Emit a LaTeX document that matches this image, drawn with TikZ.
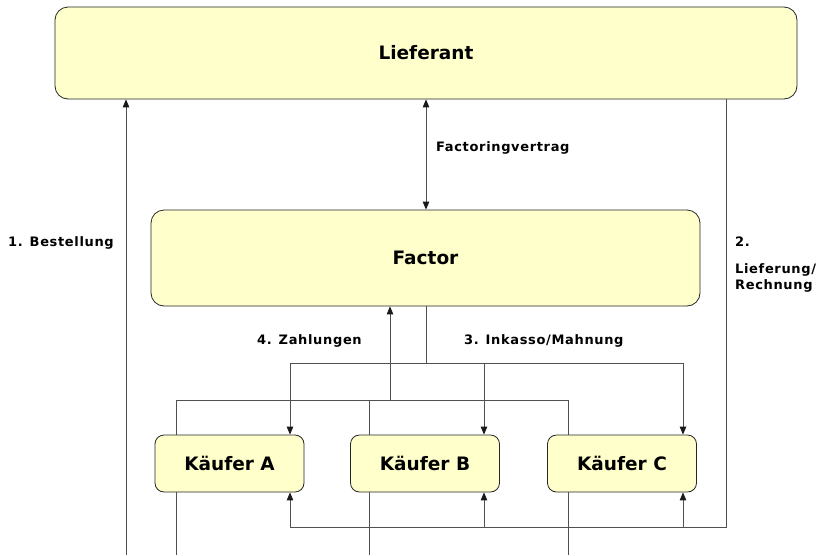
\documentclass[tikz,border=0pt]{standalone}
\usepackage{fontspec}
\setmainfont{DejaVu Sans}
\usetikzlibrary{arrows.meta}
\definecolor{boxfill}{HTML}{FFFFCC}
\definecolor{linegray}{HTML}{505050}
\begin{document}
\begin{tikzpicture}[x=1pt,y=-1pt,
  box/.style={draw=black!85, fill=boxfill, line width=0.8pt, inner sep=0pt},
  bigbox/.style={box, rounded corners=13pt},
  smallbox/.style={box, rounded corners=9pt, minimum width=149pt, minimum height=57pt},
  conn/.style={draw=linegray, line width=0.9pt},
  tip/.style={-{Triangle[length=8pt,width=6.5pt,color=black!90]}},
  bothtip/.style={{Triangle[length=8pt,width=6.5pt,color=black!90]}-{Triangle[length=8pt,width=6.5pt,color=black!90]}},
  bigtext/.style={font=\fontsize{18.5}{20}\selectfont\bfseries},
  lbl/.style={font=\fontsize{13}{15}\selectfont\bfseries\addfontfeature{LetterSpace=5}, inner sep=0pt, anchor=west}]
\useasboundingbox (0,0) rectangle (820,555);
\fill[white] (0,0) rectangle (820,555);

% boxes
\node[bigbox, minimum width=742pt, minimum height=92pt, bigtext] (lief) at (426,53) {Lieferant};
\node[bigbox, minimum width=549pt, minimum height=96pt, bigtext] (fac) at (425.5,258) {Factor};
\node[smallbox, bigtext] (ka) at (229.5,463.5) {Käufer A};
\node[smallbox, bigtext] (kb) at (425,463.5) {Käufer B};
\node[smallbox, bigtext] (kc) at (622,463.5) {Käufer C};

% free ends and junctions
\coordinate (b0) at (126,555);
\coordinate (bA) at (176,555);
\coordinate (bB) at (369,555);
\coordinate (bC) at (568,555);
\coordinate (rc) at (726,527);
\coordinate (rl) at (290,527);
\coordinate (fj) at (426,363);
\coordinate (zj) at (390,400);

% 1. Bestellung
\draw[conn,tip] (b0) -- (126,0 |- lief.south);
% Factoringvertrag
\draw[conn,bothtip] (426,0 |- lief.south) -- (426,0 |- fac.north);
% 2. Lieferung/Rechnung
\draw[conn] (726,0 |- lief.south) -- (rc) -- (rl);
\draw[conn,tip] (rl) -- (290,0 |- ka.south);
\draw[conn,tip] (484,527) -- (484,0 |- kb.south);
\draw[conn,tip] (683,527) -- (683,0 |- kc.south);
% 3. Inkasso/Mahnung
\draw[conn] (426,0 |- fac.south) -- (fj);
\draw[conn] (290,363) -- (683,363);
\draw[conn,tip] (290,363) -- (290,0 |- ka.north);
\draw[conn,tip] (484,363) -- (484,0 |- kb.north);
\draw[conn,tip] (683,363) -- (683,0 |- kc.north);
% 4. Zahlungen
\draw[conn] (176,0 |- ka.north) -- (176,400) -- (568,400) -- (568,0 |- kc.north);
\draw[conn] (369,0 |- kb.north) -- (369,400);
\draw[conn,tip] (zj) -- (390,0 |- fac.south);
% lines down from buyers
\draw[conn] (176,0 |- ka.south) -- (bA);
\draw[conn] (369,0 |- kb.south) -- (bB);
\draw[conn] (568,0 |- kc.south) -- (bC);

% labels
\node[lbl] (l1) at (8,243) {1. Bestellung};
\node[lbl] (lf) at (436,148) {Factoringvertrag};
\node[lbl] (l2a) at (735,242) {2.};
\node[lbl] (l2b) at (735,270) {Lieferung/};
\node[lbl] (l2c) at (735,286) {Rechnung};
\node[lbl] (l4) at (257,341) {4. Zahlungen};
\node[lbl] (l3) at (464,341) {3. Inkasso/Mahnung};
\end{tikzpicture}
\end{document}
